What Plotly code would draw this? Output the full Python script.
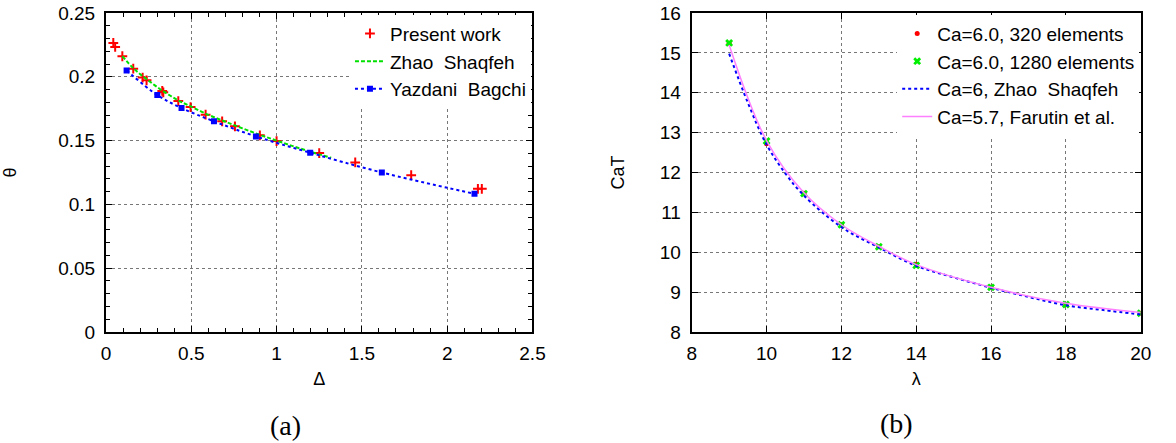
import plotly.graph_objects as go

# ---------- panel (a) data ----------
present_x = [0.043, 0.054, 0.096, 0.160, 0.215, 0.238, 0.330, 0.336, 0.424, 0.496, 0.584,
             0.681, 0.756, 0.902, 1.000, 1.250, 1.461, 1.789, 2.180, 2.203]
present_y = [0.2265, 0.2234, 0.2161, 0.2064, 0.1994, 0.1972, 0.1889, 0.1878, 0.1810, 0.1763,
             0.1703, 0.1651, 0.1612, 0.1541, 0.1496, 0.1402, 0.1329, 0.1229, 0.1122, 0.1122]

zhao_x = [0.096, 0.16, 0.24, 0.33, 0.42, 0.50, 0.60, 0.70, 0.80, 0.90, 1.00, 1.10, 1.20, 1.32]
zhao_y = [0.2162, 0.2068, 0.1980, 0.1892, 0.1818, 0.1766, 0.1702, 0.1648, 0.1596, 0.1546,
          0.1500, 0.1455, 0.1412, 0.1365]

yb_x = [0.121, 0.301, 0.443, 0.633, 0.879, 1.197, 1.617, 2.160]
yb_y = [0.2049, 0.1857, 0.1755, 0.1651, 0.1533, 0.1405, 0.1250, 0.1083]

# ---------- panel (b) data ----------
lam = [9, 10, 11, 12, 13, 14, 16, 18, 20]
cat_320 = [15.24, 12.72, 11.48, 10.69, 10.14, 9.70, 9.12, 8.69, 8.47]
cat_1280 = [15.25, 12.79, 11.47, 10.69, 10.14, 9.67, 9.12, 8.69, 8.47]

zs_lam = [9, 9.5, 10, 10.5, 11, 12, 13, 14, 15, 16, 17, 18, 19, 20]
zs_cat = [14.98, 13.75, 12.70, 11.98, 11.42, 10.63, 10.12, 9.66, 9.37, 9.11, 8.88, 8.67, 8.55, 8.44]

far_lam = [9, 10, 11, 12, 13, 14, 16, 18, 20]
far_cat = [15.20, 12.80, 11.49, 10.69, 10.15, 9.69, 9.12, 8.72, 8.49]

FONT = "Liberation Sans"

fig = go.Figure()

# panel (a)
fig.add_trace(go.Scatter(x=present_x, y=present_y, mode="markers", name="Present work",
                         marker=dict(symbol="cross-thin", size=7, color="#ff0000",
                                     line=dict(color="#ff0000", width=2)),
                         xaxis="x", yaxis="y", legend="legend"))
fig.add_trace(go.Scatter(x=zhao_x, y=zhao_y, mode="lines", name="Zhao\u00a0 Shaqfeh",
                         line=dict(color="#00e000", width=2, dash="4px,2px", shape="spline"),
                         xaxis="x", yaxis="y", legend="legend"))
fig.add_trace(go.Scatter(x=yb_x, y=yb_y, mode="lines+markers", name="Yazdani\u00a0 Bagchi",
                         line=dict(color="#0000ff", width=2, dash="dot", shape="spline"),
                         marker=dict(symbol="square", size=6, color="#0000ff"),
                         xaxis="x", yaxis="y", legend="legend"))

# panel (b)
fig.add_trace(go.Scatter(x=lam, y=cat_320, mode="markers", name="Ca=6.0, 320 elements",
                         marker=dict(symbol="circle", size=5, color="#ff0000"),
                         xaxis="x2", yaxis="y2", legend="legend2"))
fig.add_trace(go.Scatter(x=lam, y=cat_1280, mode="markers", name="Ca=6.0, 1280 elements",
                         marker=dict(symbol="x", size=7, color="#00ee00"),
                         xaxis="x2", yaxis="y2", legend="legend2"))
fig.add_trace(go.Scatter(x=zs_lam, y=zs_cat, mode="lines", name="Ca=6, Zhao\u00a0 Shaqfeh",
                         line=dict(color="#0000ff", width=2, dash="dot", shape="spline"),
                         xaxis="x2", yaxis="y2", legend="legend2"))
fig.add_trace(go.Scatter(x=far_lam, y=far_cat, mode="lines", name="Ca=5.7, Farutin et al.",
                         line=dict(color="#ff80ff", width=1.5, shape="spline"),
                         xaxis="x2", yaxis="y2", legend="legend2"))

axis_common = dict(showline=True, linecolor="black", linewidth=2, mirror="allticks",
                   ticks="inside", ticklen=6, tickcolor="black", tickwidth=1,
                   showgrid=True, gridcolor="#777777", griddash="dot", gridwidth=1,
                   zeroline=False, automargin=False,
                   tickfont=dict(family=FONT, size=19, color="black"))

fig.update_layout(
    width=1176, height=443,
    margin=dict(l=0, r=0, t=13, b=111),
    paper_bgcolor="white", plot_bgcolor="white",
    font=dict(family=FONT, size=19, color="black"),
    xaxis=dict(domain=[0.0901, 0.4528], range=[0, 2.5], dtick=0.5,
               minor=dict(dtick=0.1, ticks="inside", ticklen=4, tickcolor="black", showgrid=False),
               title=dict(text="\u0394", standoff=10, font=dict(size=18)),
               anchor="y", ticklabelstandoff=3, **axis_common),
    yaxis=dict(domain=[0, 1], range=[0, 0.25], dtick=0.05,
               minor=dict(dtick=0.01, ticks="inside", ticklen=4, tickcolor="black", showgrid=False),
               title=dict(text="\u03b8", standoff=38, font=dict(size=18)),
               anchor="x", ticklabelstandoff=5, **axis_common),
    xaxis2=dict(domain=[0.5882, 0.9700], range=[8, 20], dtick=2,
                title=dict(text="\u03bb", standoff=10, font=dict(size=18)),
                anchor="y2", ticklabelstandoff=3, **axis_common),
    yaxis2=dict(domain=[0, 1], range=[8, 16], dtick=1,
                title=dict(text="CaT", standoff=30, font=dict(size=18)),
                anchor="x2", ticklabelstandoff=5, **axis_common),
    legend=dict(x=0.4515, xanchor="right", y=0.995, yanchor="top", bgcolor="white",
                font=dict(family=FONT, size=19), tracegroupgap=0, borderwidth=0),
    legend2=dict(x=0.9687, xanchor="right", y=0.995, yanchor="top", bgcolor="white",
                 font=dict(family=FONT, size=19), tracegroupgap=0, borderwidth=0),
    annotations=[
        dict(text="(a)", x=285 / 1176, y=-0.292, xref="paper", yref="paper",
             xanchor="center", yanchor="middle", showarrow=False,
             font=dict(family="Liberation Serif", size=28, color="black")),
        dict(text="(b)", x=896 / 1176, y=-0.286, xref="paper", yref="paper",
             xanchor="center", yanchor="middle", showarrow=False,
             font=dict(family="Liberation Serif", size=28, color="black")),
    ],
)

fig.write_html("out.html",
               config={"displayModeBar": False},
               post_script="document.body.style.margin='0';document.body.style.overflow='hidden';")
